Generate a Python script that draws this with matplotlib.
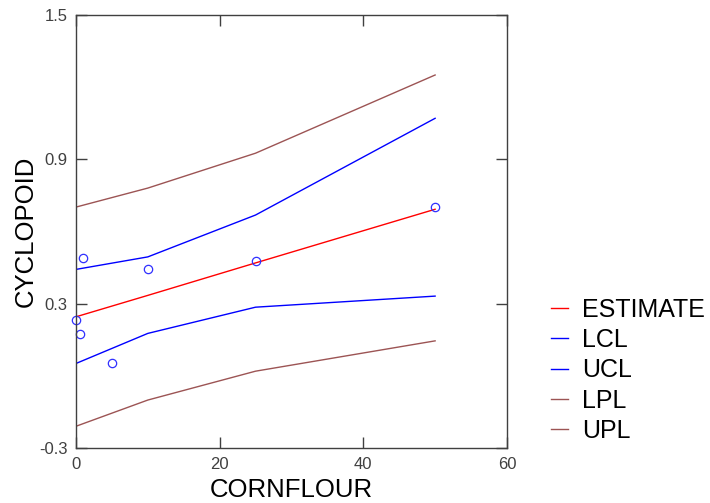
import matplotlib
matplotlib.use("Agg")
import matplotlib.pyplot as plt

plt.rcParams['font.family'] = ['Liberation Sans', 'DejaVu Sans']

# Observed data
obs_x = [0, 0.5, 1, 5, 10, 25, 50]
obs_y = [0.232, 0.173, 0.489, 0.055, 0.445, 0.477, 0.702]

# Fitted curves evaluated at the distinct design points
fit_x = [0, 10, 25, 50]
estimate = [0.246, 0.335, 0.470, 0.693]
lcl = [0.052, 0.177, 0.286, 0.332]
ucl = [0.443, 0.495, 0.669, 1.071]
lpl = [-0.209, -0.100, 0.020, 0.146]
upl = [0.702, 0.781, 0.926, 1.251]

x_ticks = [0, 20, 40, 60]
y_ticks = [-0.3, 0.3, 0.9, 1.5]
y_tick_labels = ['-0.3', '0.3', '0.9', '1.5']

fig = plt.figure(figsize=(7.10, 5.03), dpi=100)
ax = fig.add_axes([0.107, 0.109, 0.607, 0.861])

brown = '#9c5454'
ax.plot(fit_x, estimate, color='#ff0000', lw=1.0, label='ESTIMATE')
ax.plot(fit_x, lcl, color='#0000ff', lw=1.0, label='LCL')
ax.plot(fit_x, ucl, color='#0000ff', lw=1.0, label='UCL')
ax.plot(fit_x, lpl, color=brown, lw=1.0, label='LPL')
ax.plot(fit_x, upl, color=brown, lw=1.0, label='UPL')
ax.plot(obs_x, obs_y, linestyle='none', marker='o', markersize=6,
        markerfacecolor='none', markeredgecolor='#3030ff', markeredgewidth=0.9,
        clip_on=False)

ax.set_xlim(0, 60)
ax.set_ylim(-0.3, 1.5)
ax.set_xticks(x_ticks)
ax.set_yticks(y_ticks)
ax.set_yticklabels(y_tick_labels)
ax.tick_params(direction='in', length=8, width=1.0, color='#404040',
               top=True, right=True, labelsize=12, labelcolor='#404040', pad=6)
for s in ax.spines.values():
    s.set_color('#404040')
    s.set_linewidth(1.0)

ax.set_xlabel('CORNFLOUR', fontsize=18.5, labelpad=5)
ax.set_ylabel('CYCLOPOID', fontsize=18.5, labelpad=1)

leg = ax.legend(loc='upper left', bbox_to_anchor=(1.08, 0.37), frameon=False,
                fontsize=18, handlelength=0.68, handletextpad=0.56,
                labelspacing=0.25, borderaxespad=0)

fig.savefig('out.png', dpi=100)
